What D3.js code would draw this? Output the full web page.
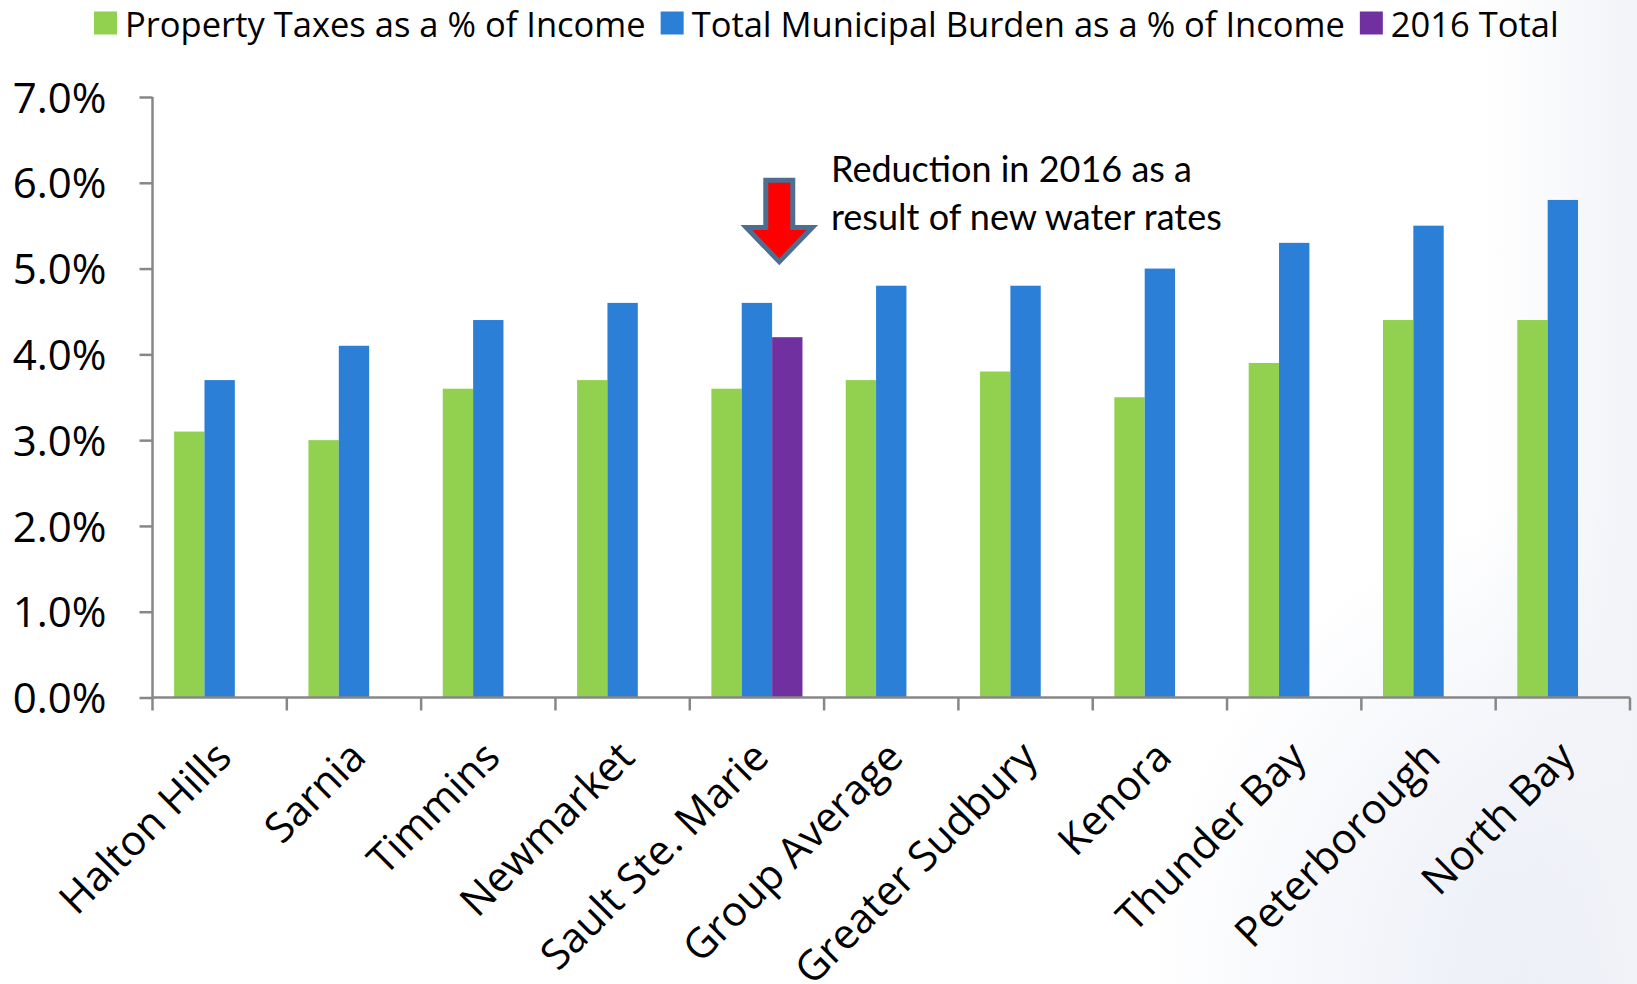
<!DOCTYPE html>
<html>
<head>
<meta charset="utf-8">
<script src="https://cdn.jsdelivr.net/npm/d3@7"></script>
<style>
  html, body { margin: 0; padding: 0; background: #fff; }
  svg { display: block; }
</style>
</head>
<body>
<svg id="chart" width="1637" height="984"></svg>
<script>
// Municipal burden comparison, share of household income
const categories = ["Halton Hills", "Sarnia", "Timmins", "Newmarket", "Sault Ste. Marie",
  "Group Average", "Greater Sudbury", "Kenora", "Thunder Bay", "Peterborough", "North Bay"];
const propertyTaxes = [3.1, 3.0, 3.6, 3.7, 3.6, 3.7, 3.8, 3.5, 3.9, 4.4, 4.4];
const totalBurden   = [3.7, 4.1, 4.4, 4.6, 4.6, 4.8, 4.8, 5.0, 5.3, 5.5, 5.8];
const total2016     = [null, null, null, null, 4.2, null, null, null, null, null, null];
const seriesNames = ["Property Taxes as a % of Income", "Total Municipal Burden as a % of Income", "2016 Total"];
const yTicks = [0, 1, 2, 3, 4, 5, 6, 7];
const noteLines = ["Reduction in 2016 as a", "result of new water rates"];

const colors = ["#92D050", "#2B7FD7", "#7030A0"];
const W = 1637, H = 984;
const svg = d3.select("#chart");

// soft bluish shading toward the lower right corner
const defs = svg.append("defs");
const rg = defs.append("radialGradient").attr("id", "bg")
  .attr("gradientUnits", "userSpaceOnUse")
  .attr("cx", W).attr("cy", H).attr("r", 900);
rg.append("stop").attr("offset", 0).attr("stop-color", "#e6eaf5");
rg.append("stop").attr("offset", 0.3).attr("stop-color", "#f3f5fa");
rg.append("stop").attr("offset", 0.55).attr("stop-color", "#ffffff");
const lg = defs.append("linearGradient").attr("id", "edge")
  .attr("gradientUnits", "userSpaceOnUse")
  .attr("x1", 1480).attr("y1", 0).attr("x2", W).attr("y2", 0);
lg.append("stop").attr("offset", 0).attr("stop-color", "#f3f4f9").attr("stop-opacity", 0);
lg.append("stop").attr("offset", 1).attr("stop-color", "#f1f3f8").attr("stop-opacity", 1);
svg.append("rect").attr("width", W).attr("height", H).attr("fill", "url(#bg)");
svg.append("rect").attr("width", W).attr("height", H).attr("fill", "url(#edge)");

const plot = { left: 152.5, right: 1630, top: 97, bottom: 697.5 };

const x = d3.scaleBand().domain(categories).range([plot.left, plot.right]).paddingInner(0).paddingOuter(0);
const sub = d3.scaleBand().domain([0, 1, 2]).range([x.bandwidth() * 0.161, x.bandwidth() * 0.839]).padding(0);
const y = d3.scaleLinear().domain([0, 7]).range([plot.bottom, plot.top]);

const rows = categories.map((c, i) => ({ c, vals: [propertyTaxes[i], totalBurden[i], total2016[i]] }));

// bars
const groups = svg.append("g").selectAll("g").data(rows).join("g")
  .attr("transform", d => `translate(${x(d.c)},0)`);
groups.selectAll("rect")
  .data(d => d.vals.map((v, k) => ({ v, k })).filter(e => e.v != null))
  .join("rect")
  .attr("x", e => sub(e.k))
  .attr("width", sub.bandwidth())
  .attr("y", e => y(e.v))
  .attr("height", e => y(0) - y(e.v))
  .attr("fill", e => colors[e.k]);

const axisColor = "#878787";
const labelFont = "'Open Sans', sans-serif";

// y axis
const yAxis = svg.append("g").attr("transform", `translate(${plot.left},0)`)
  .call(d3.axisLeft(y).tickValues(yTicks).tickSize(13).tickPadding(0)
    .tickFormat(d => d.toFixed(1) + "%"));
yAxis.attr("font-family", null).attr("font-size", null);
yAxis.select(".domain").attr("stroke", axisColor).attr("stroke-width", 2.5)
  .attr("d", `M0,${plot.top}V${plot.bottom}`);
yAxis.selectAll(".tick line").attr("stroke", axisColor).attr("stroke-width", 2.5);
yAxis.selectAll(".tick text")
  .attr("x", -46)
  .attr("dy", "0.36em")
  .attr("fill", "#000")
  .attr("font-family", labelFont)
  .attr("font-size", 42);

// x axis: ticks at category boundaries
const bounds = categories.map(c => x(c)).concat([plot.right]);
const xAxis = svg.append("g");
xAxis.append("line").attr("x1", plot.left).attr("x2", plot.right)
  .attr("y1", plot.bottom).attr("y2", plot.bottom)
  .attr("stroke", axisColor).attr("stroke-width", 2.5);
xAxis.selectAll("line.tk").data(bounds).join("line").attr("class", "tk")
  .attr("x1", d => d).attr("x2", d => d)
  .attr("y1", plot.bottom).attr("y2", plot.bottom + 13)
  .attr("stroke", axisColor).attr("stroke-width", 2.5);
xAxis.selectAll("text").data(categories).join("text")
  .attr("text-anchor", "end")
  .attr("transform", c => `translate(${x(c) + x.bandwidth() / 2 + 14},${plot.bottom + 62}) rotate(-45)`)
  .attr("fill", "#000")
  .attr("font-family", labelFont)
  .attr("font-size", 41.5)
  .text(c => c);

// legend
const legend = svg.append("g").attr("transform", "translate(94,0)");
let lx = 0;
seriesNames.forEach((name, k) => {
  legend.append("rect").attr("x", lx).attr("y", 11.5).attr("width", 23).attr("height", 23).attr("fill", colors[k]);
  const t = legend.append("text").attr("x", lx + 31).attr("y", 36.5)
    .attr("font-family", labelFont).attr("font-size", 34.5)
    .attr("fill", "#000").text(name);
  lx += 31 + t.node().getComputedTextLength() + 15;
});

// annotation: arrow pointing at the 2016 total
const ssm = categories[4];
const ax = x(ssm) + sub(2) + sub.bandwidth() / 2 - 8;
const arrow = d3.path();
arrow.moveTo(ax - 13.5, y(6.03));
arrow.lineTo(ax + 13.5, y(6.03));
arrow.lineTo(ax + 13.5, y(5.48));
arrow.lineTo(ax + 33, y(5.48));
arrow.lineTo(ax, y(5.08));
arrow.lineTo(ax - 33, y(5.48));
arrow.lineTo(ax - 13.5, y(5.48));
arrow.closePath();
svg.append("path").attr("d", arrow.toString())
  .attr("fill", "#FF0000").attr("stroke", "#4C6E90").attr("stroke-width", 5)
  .attr("stroke-linejoin", "miter");

const note = svg.append("text").attr("x", 831).attr("y", 182)
  .attr("font-family", "Lato, sans-serif").attr("font-size", 36).attr("fill", "#000");
note.selectAll("tspan").data(noteLines).join("tspan")
  .attr("x", 831).attr("dy", (d, i) => i === 0 ? 0 : 48).text(d => d);
</script>
</body>
</html>
